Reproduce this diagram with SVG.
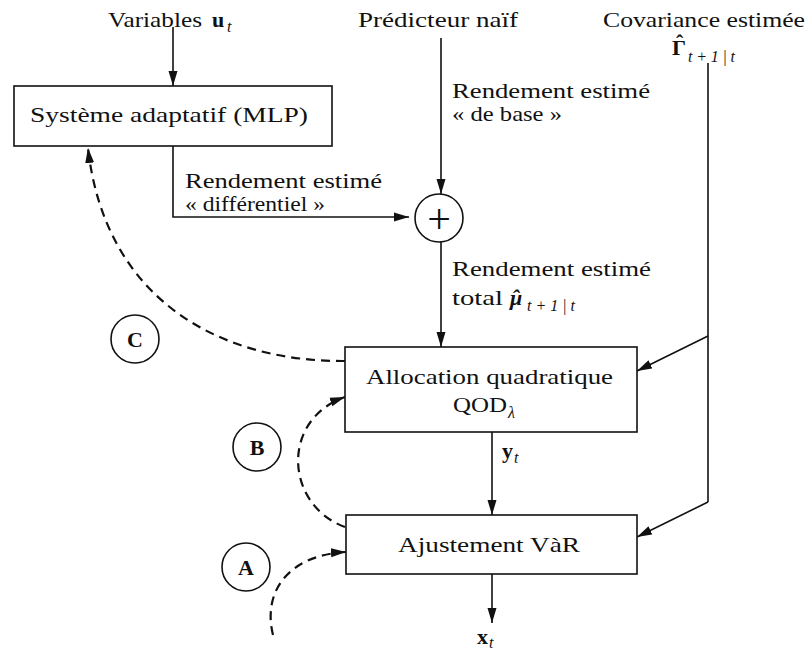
<svg xmlns="http://www.w3.org/2000/svg" width="810" height="651" viewBox="0 0 810 651">
<style>
text{font-family:"Liberation Serif","DejaVu Serif",serif;font-size:22px;fill:#111}
.sub{font-size:16px;font-style:italic;font-weight:normal}
.b{font-weight:bold}
.lbl{font-weight:bold;font-size:22px;text-anchor:middle}
.box{fill:#fff;stroke:#111;stroke-width:1.6}
.ln{fill:none;stroke:#111;stroke-width:1.6}
.dash{fill:none;stroke:#111;stroke-width:2.2;stroke-dasharray:9 6}
.circ{fill:#fff;stroke:#111;stroke-width:1.6}
</style>
<defs>
<marker id="ah" markerUnits="userSpaceOnUse" markerWidth="16" markerHeight="10" refX="15" refY="5" orient="auto">
<path d="M0,0.5 L15,5 L0,9.5 z" fill="#111"/>
</marker>
</defs>

<g id="inputs">
<text x="108" y="27" textLength="94" lengthAdjust="spacingAndGlyphs">Variables</text>
<text x="212" y="27" class="b">u</text><text x="227" y="32" class="sub">t</text>
<text x="358" y="27" textLength="160" lengthAdjust="spacingAndGlyphs">Prédicteur naïf</text>
<text x="603" y="27" textLength="202" lengthAdjust="spacingAndGlyphs">Covariance estimée</text>
<text x="672" y="55" class="b">Γ<tspan dx="-10" dy="-5">ˆ</tspan></text>
<text x="688" y="62" class="sub" textLength="47">t+1|t</text>
</g>

<g id="connectors">
<path class="ln" d="M173 27 V86" marker-end="url(#ah)"/>
<path class="ln" d="M173 146 V217 H409" marker-end="url(#ah)"/>
<path class="ln" d="M441 38 V194" marker-end="url(#ah)"/>
<path class="ln" d="M441 242 V347" marker-end="url(#ah)"/>
<path class="ln" d="M708 63 V502"/>
<path class="ln" d="M708 336 L637 371" marker-end="url(#ah)"/>
<path class="ln" d="M708 502 L637 537" marker-end="url(#ah)"/>
<path class="ln" d="M492 432 V515" marker-end="url(#ah)"/>
<path class="ln" d="M492 574 V623" marker-end="url(#ah)"/>
<path class="dash" d="M345 361 C220 362,105 300,88 148" marker-end="url(#ah)"/>
<path class="dash" d="M345 527 C285 505,280 420,345 397" marker-end="url(#ah)"/>
<path class="dash" d="M273 635 C262 590,290 555,346 552" marker-end="url(#ah)"/>
</g>

<g id="labels">
<text x="185" y="188" textLength="197" lengthAdjust="spacingAndGlyphs">Rendement estimé</text>
<text x="185" y="211" textLength="140" lengthAdjust="spacingAndGlyphs">« différentiel »</text>
<text x="452" y="98" textLength="198" lengthAdjust="spacingAndGlyphs">Rendement estimé</text>
<text x="452" y="121" textLength="110" lengthAdjust="spacingAndGlyphs">« de base »</text>
<text x="452" y="276" textLength="199" lengthAdjust="spacingAndGlyphs">Rendement estimé</text>
<text x="452" y="305" textLength="51" lengthAdjust="spacingAndGlyphs">total</text>
<text x="510" y="305" class="b" style="font-style:italic">μ<tspan dx="-10.5">ˆ</tspan></text>
<text x="527" y="311" class="sub" textLength="48">t+1|t</text>
<text x="502" y="458" class="b">y</text><text x="514" y="463" class="sub">t</text>
<text x="477" y="644" class="b">x</text><text x="489" y="648" class="sub">t</text>
</g>

<g id="mlp">
<rect class="box" x="14" y="86" width="318" height="60"/>
<text x="30" y="122" textLength="278" lengthAdjust="spacingAndGlyphs">Système adaptatif (MLP)</text>
</g>

<g id="plus">
<circle class="circ" cx="439" cy="218" r="24"/>
<text x="439" y="233" style="font-size:42px" text-anchor="middle">+</text>
</g>

<g id="allocation">
<rect class="box" x="345" y="347" width="292" height="85"/>
<text x="366" y="384" textLength="247" lengthAdjust="spacingAndGlyphs">Allocation quadratique</text>
<text x="453" y="412" textLength="54" lengthAdjust="spacingAndGlyphs">QOD</text>
<text x="508" y="418" class="sub">λ</text>
</g>

<g id="ajustement">
<rect class="box" x="346" y="515" width="291" height="59"/>
<text x="398" y="552" textLength="182" lengthAdjust="spacingAndGlyphs">Ajustement VàR</text>
</g>

<g id="markC">
<circle class="circ" cx="135" cy="339" r="24"/>
<text class="lbl" x="135" y="347">C</text>
</g>
<g id="markB">
<circle class="circ" cx="257" cy="447" r="24"/>
<text class="lbl" x="257" y="455">B</text>
</g>
<g id="markA">
<circle class="circ" cx="246" cy="567" r="24"/>
<text class="lbl" x="246" y="575">A</text>
</g>
</svg>
